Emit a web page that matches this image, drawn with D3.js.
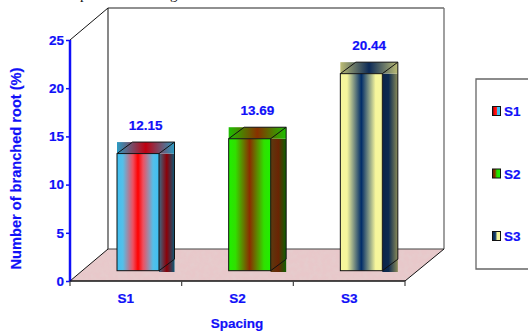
<!DOCTYPE html>
<html>
<head>
<meta charset="utf-8">
<script src="https://cdn.jsdelivr.net/npm/d3@7/dist/d3.min.js"></script>
<style>
html,body{margin:0;padding:0;background:#fff;overflow:hidden}
svg{display:block}
text{font-family:"Liberation Sans",Arial,sans-serif;font-weight:bold;fill:#1010f8;stroke:#1010f8;stroke-width:.2px}
</style>
</head>
<body>
<svg id="chart" width="528" height="335"></svg>
<script>
const categories = ["S1", "S2", "S3"];
const values = [12.15, 13.69, 20.44];
const yTicks = [0, 5, 10, 15, 20, 25];
const xTitle = "Spacing";
const yTitle = "Number of branched root (%)";

// Gradient stops per bar: [offset, colour] for the front, side, top faces and legend key
const frontStops = [
  [[0, "#3fc0f2"], [.14, "#55bfe8"], [.38, "#ee5060"], [.5, "#ff0000"], [.62, "#ee5060"], [.86, "#55bfe8"], [1, "#3fc0f2"]],
  [[0, "#20f000"], [.16, "#30e000"], [.5, "#8c2c00"], [.84, "#30e000"], [1, "#20f000"]],
  [[0, "#f6f69c"], [.16, "#f6f69c"], [.5, "#002c68"], [.84, "#f6f69c"], [1, "#f6f69c"]]
];
const sideStops = [
  [[0, "#3a6a84"], [.5, "#8c0008"], [1, "#0a5a78"]],
  [[0, "#5a3a10"], [.5, "#6a2404"], [1, "#0c6000"]],
  [[0, "#0c2448"], [.4, "#0c2a50"], [1, "#8c8c58"]]
];
const topStops = [
  [[0, "#2a9cc4"], [.5, "#c00010"], [1, "#2a9cc4"]],
  [[0, "#1cc000"], [.5, "#883000"], [1, "#1cc000"]],
  [[0, "#bcbc74"], [.5, "#0c2a58"], [1, "#bcbc74"]]
];
const keyStops = [
  [[0, "#402028"], [.25, "#ff0000"], [.5, "#ff2020"], [.6, "#40c0f0"], [1, "#40c0f0"]],
  [[0, "#5a3000"], [.3, "#902c00"], [.55, "#20e000"], [1, "#20f000"]],
  [[0, "#0c2a58"], [.35, "#103868"], [.6, "#f6f69c"], [1, "#f6f69c"]]
];

const svg = d3.select("#chart");
const defs = svg.append("defs");

function addGradient(id, stops) {
  const g = defs.append("linearGradient").attr("id", id)
    .attr("x1", 0).attr("x2", 1).attr("y1", 0).attr("y2", 0);
  stops.forEach(s => g.append("stop").attr("offset", s[0]).attr("stop-color", s[1]));
}
categories.forEach((c, i) => {
  addGradient("front" + c, frontStops[i]);
  addGradient("side" + c, sideStops[i]);
  addGradient("top" + c, topStops[i]);
  addGradient("key" + c, keyStops[i]);
});

// Mottled stone texture for the floor
const stone = defs.append("filter").attr("id", "stone")
  .attr("x", 0).attr("y", 0).attr("width", 1).attr("height", 1);
stone.append("feTurbulence").attr("type", "fractalNoise")
  .attr("baseFrequency", .22).attr("numOctaves", 2).attr("seed", 4).attr("result", "n");
stone.append("feColorMatrix").attr("in", "n").attr("type", "matrix")
  .attr("values", "0 0 0 0 .78  0 0 0 0 .62  0 0 0 0 .62  1.3 0 0 0 -.42").attr("result", "m");
stone.append("feComposite").attr("in", "m").attr("in2", "SourceGraphic").attr("operator", "in").attr("result", "c");
stone.append("feMerge").selectAll("feMergeNode").data(["SourceGraphic", "c"]).join("feMergeNode").attr("in", d => d);

// Scales and the 3D frame
const x = d3.scaleBand().domain(categories).range([70, 405]);
const y = d3.scaleLinear().domain([0, 25]).range([281, 40]);
const depthX = 38, depthY = 32;
const x0 = x.range()[0], x1 = x.range()[1];
const y0 = y(0), yT = y(25);

svg.append("polygon")
  .attr("points", [[x0, y0], [x1, y0], [x1 + depthX + 1, y0 - depthY], [x0 + depthX, y0 - depthY]].join(" "))
  .attr("fill", "#e8c8ca").attr("filter", "url(#stone)");

// Back wall and the wall edges
svg.append("path")
  .attr("d", `M${x0 + depthX},${y0 - depthY}V${yT - depthY}`)
  .attr("stroke", "#555").attr("stroke-width", 1.4).attr("fill", "none");
svg.append("path")
  .attr("d", `M${x0 + depthX},${yT - depthY}H${x1 + depthX + 1}`)
  .attr("stroke", "#222").attr("stroke-width", 1.2).attr("fill", "none");
svg.append("path")
  .attr("d", `M${x1 + depthX + 1},${yT - depthY}V${y0 - depthY}`)
  .attr("stroke", "#777").attr("stroke-width", 1.4).attr("fill", "none");
svg.append("path")
  .attr("d", `M${x0 + depthX},${y0 - depthY}H${x1 + depthX + 1}`)
  .attr("stroke", "#444").attr("stroke-width", 1.2).attr("fill", "none");
svg.append("path")
  .attr("d", `M${x0},${yT}L${x0 + depthX},${yT - depthY}M${x0},${y0}L${x0 + depthX},${y0 - depthY}M${x1},${y0}L${x1 + depthX + 1},${y0 - depthY}`)
  .attr("stroke", "#111").attr("stroke-width", 1).attr("fill", "none");

// Bars: each one sits slightly inside the floor, offset from the axis line
const barInset = 47, barW = 42, barDX = 15.5, barDY = 11.5, barLift = 10.3;
const bars = svg.append("g").selectAll("g").data(categories).join("g");
const frontL = c => x(c) + barInset;
const base = y0 - barLift;
const topY = i => base - (y0 - y(values[i]));

bars.each(function (c, i) {
  const g = d3.select(this);
  const l = frontL(c), r = l + barW, t = topY(i);
  // side and top faces fill their whole bounding boxes, leaving coloured corners
  g.append("rect").attr("x", r).attr("y", t).attr("width", barDX).attr("height", base + 1.3 - t)
    .attr("fill", `url(#side${c})`);
  g.append("rect").attr("x", l).attr("y", t - barDY).attr("width", barW + barDX).attr("height", barDY)
    .attr("fill", `url(#top${c})`);
  g.append("rect").attr("x", l).attr("y", t).attr("width", barW).attr("height", base - t)
    .attr("fill", `url(#front${c})`).attr("stroke", "#111").attr("stroke-width", 1);
  g.append("path")
    .attr("d", `M${l},${t}L${l + barDX},${t - barDY}H${r + barDX}L${r},${t}M${r + barDX},${t - barDY}V${base - barDY}L${r},${base}`)
    .attr("fill", "none").attr("stroke", "#111").attr("stroke-width", 1);
});

// Value labels above the bars
svg.append("g").selectAll("text").data(categories).join("text")
  .attr("x", c => frontL(c) + (barW + barDX) / 2)
  .attr("y", (c, i) => topY(i) - barDY - 12.5)
  .attr("text-anchor", "middle").attr("font-size", 13.5)
  .text((c, i) => values[i].toFixed(2));

// Axes
const yAxis = svg.append("g").attr("transform", `translate(${x0},0)`)
  .call(d3.axisLeft(y).tickValues(yTicks).tickSize(4).tickPadding(2));
yAxis.selectAll("path").attr("stroke", "#1010f8").attr("stroke-width", 2.5).attr("d", `M0,${yT}V${y0 + 1}`);
yAxis.selectAll("line").attr("stroke", "#1010f8").attr("stroke-width", 1.5);
yAxis.selectAll("text").attr("font-size", 13.5).attr("font-family", null);

const xAxis = svg.append("g").attr("transform", `translate(0,${y0})`)
  .call(d3.axisBottom(x).tickSize(0).tickPadding(12));
xAxis.select("path").attr("stroke", "#111").attr("stroke-width", 1.5).attr("d", `M${x0},0H${x1}`);
xAxis.selectAll("text").attr("font-size", 13.5).attr("font-family", null);
xAxis.selectAll("line.edge").data(d3.range(4)).join("line").attr("class", "edge")
  .attr("x1", i => x0 + i * x.step()).attr("x2", i => x0 + i * x.step())
  .attr("y1", 0).attr("y2", 5)
  .attr("stroke", "#444").attr("stroke-width", 1.2);

// Axis titles
svg.append("text").attr("x", 237).attr("y", 328).attr("text-anchor", "middle")
  .attr("font-size", 13.5).text(xTitle);
svg.append("text").attr("transform", "translate(21,168.5) rotate(-90)").attr("text-anchor", "middle")
  .attr("font-size", 14.6).text(yTitle);

// Legend
const legendY = d3.scalePoint().domain(categories).range([111, 236]);
svg.append("path").attr("d", "M530,79H476V269H530").attr("fill", "none")
  .attr("stroke", "#666").attr("stroke-width", 1.3);
const legend = svg.append("g").selectAll("g").data(categories).join("g")
  .attr("transform", c => `translate(492,${legendY(c)})`);
legend.append("rect").attr("x", .5).attr("y", -4.5).attr("width", 8).attr("height", 9)
  .attr("fill", c => `url(#key${c})`).attr("stroke", "#111").attr("stroke-width", 1);
legend.append("text").attr("x", 12).attr("y", 5).attr("font-size", 13.5).text(c => c);

// Descenders of the caption line cut off by the top edge
svg.append("g").selectAll("text").data(["p", "g"]).join("text")
  .attr("x", (d, i) => [80, 170][i]).attr("y", -1.5)
  .attr("font-size", 15)
  .style("font-family", '"Liberation Serif",serif').style("font-weight", "normal").style("fill", "#111").style("stroke", "none")
  .text(d => d);
</script>
</body>
</html>
